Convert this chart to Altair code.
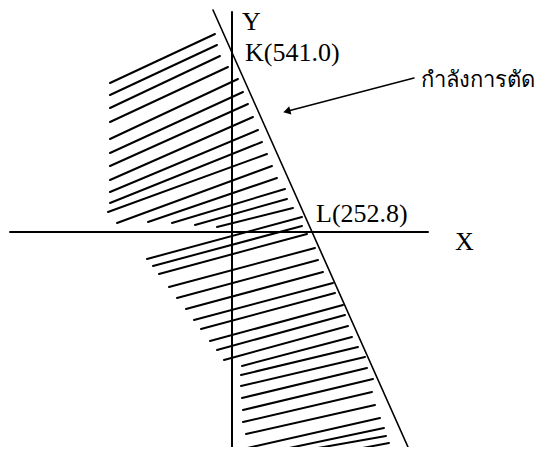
import altair as alt
import pandas as pd

# Data units: origin at the crossing of the X and Y axes, x to the right, y upwards.
# Axes
axis_x1 = [-222, 0]
axis_y1 = [0, 220]
axis_x2 = [196, 0]
axis_y2 = [0, -215]

# Cutting-force line through K (on Y) and L (on X)
diag_x1, diag_y1 = [-19], [222]
diag_x2, diag_y2 = [176], [-215]

# Hatch strokes (start / end)
hatch_x1 = [-122, -122, -122, -122, -122, -122, -122, -122, -122, -122, -124, -115, -84, -60, -37, -15,
            -85, -79, -73, -63, -55, -46, -38, -31, -22, -15, -8,
            10, 9, 9, 10, 11, 11, 14, 11, 43, 86, 120]
hatch_y1 = [149, 137, 124, 110, 93, 79, 66, 52, 40, 29, 20, 9, 10, 9, 7, 5,
            -27, -34, -42, -55, -66, -77, -88, -97, -109, -118, -128,
            -134, -143, -154, -166, -178, -190, -202, -217, -219, -216, -218]
hatch_x2 = [-17, -15, -12, -4, 6, 11, 16, 21, 26, 30, 35, 40, 45, 53, 55, 61,
            70, 70, 75, 83, 86, 91, 101, 103, 111, 113, 116,
            120, 126, 133, 135, 141, 140, 143, 148, 152, 154, 157]
hatch_y2 = [198, 187, 176, 165, 153, 140, 128, 115, 102, 90, 78, 66, 54, 43, 33, 24,
            15, 6, -2, -16, -28, -40, -51, -61, -73, -83, -94,
            -105, -115, -125, -136, -147, -160, -173, -186, -196, -204, -211]

# Arrow pointing at the line
arrow_x1, arrow_y1 = [182], [154]
arrow_x2, arrow_y2 = [56], [121]

# Labels
label_text = ["Y", "K(541.0)", "L(252.8)", "X"]
label_x = [10, 13, 84, 223]
label_y = [202, 171, 10, -18]
thai_text = ["กำลังการตัด"]
thai_x = [189]
thai_y = [145]

XD = [-224, 314]
YD = [-215, 224]
xs = alt.Scale(domain=XD, nice=False, zero=False)
ys = alt.Scale(domain=YD, nice=False, zero=False)


def seg(df, width):
    return alt.Chart(df).mark_rule(color="black", strokeWidth=width, strokeCap="round").encode(
        x=alt.X("x1:Q", scale=xs, axis=None),
        y=alt.Y("y1:Q", scale=ys, axis=None),
        x2="x2:Q",
        y2="y2:Q",
    )


axes = seg(pd.DataFrame({"x1": axis_x1, "y1": axis_y1, "x2": axis_x2, "y2": axis_y2}), 2)
diag = seg(pd.DataFrame({"x1": diag_x1, "y1": diag_y1, "x2": diag_x2, "y2": diag_y2}), 1.6)
hatch = seg(pd.DataFrame({"x1": hatch_x1, "y1": hatch_y1, "x2": hatch_x2, "y2": hatch_y2}), 2)
arrow = seg(pd.DataFrame({"x1": arrow_x1, "y1": arrow_y1, "x2": arrow_x2, "y2": arrow_y2}), 1.5)

head = alt.Chart(pd.DataFrame({"x": arrow_x2, "y": arrow_y2})).mark_point(
    shape="triangle", angle=255, size=70, filled=True, color="black", opacity=1
).encode(x=alt.X("x:Q", scale=xs, axis=None), y=alt.Y("y:Q", scale=ys, axis=None))

labels = alt.Chart(pd.DataFrame({"x": label_x, "y": label_y, "t": label_text})).mark_text(
    align="left", baseline="alphabetic", font="Liberation Serif", fontSize=26, color="black"
).encode(x=alt.X("x:Q", scale=xs, axis=None), y=alt.Y("y:Q", scale=ys, axis=None), text="t:N")

thai = alt.Chart(pd.DataFrame({"x": thai_x, "y": thai_y, "t": thai_text})).mark_text(
    align="left", baseline="alphabetic", font="Noto Sans", fontSize=22, color="black"
).encode(x=alt.X("x:Q", scale=xs, axis=None), y=alt.Y("y:Q", scale=ys, axis=None), text="t:N")

chart = alt.layer(axes, diag, hatch, arrow, head, labels, thai).properties(
    width=538, height=439, padding=0, autosize=alt.AutoSizeParams(type="none"), background="white"
).configure_view(stroke=None)

chart.save("out.html", embed_options={"renderer": "svg", "actions": False})
